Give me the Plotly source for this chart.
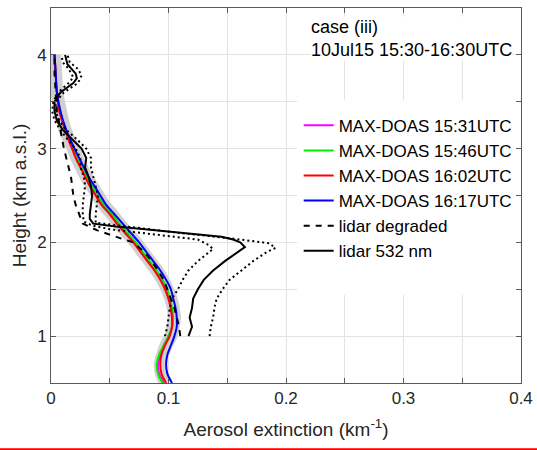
import plotly.graph_objects as go

# ---------------- data ----------------
doas_heights = [0.5, 0.6, 0.7, 0.8, 0.9, 1.0, 1.1, 1.2, 1.3, 1.4, 1.5, 1.6, 1.7, 1.8, 1.9,
                2.0, 2.1, 2.2, 2.3, 2.4, 2.5, 2.6, 2.7, 2.8, 2.9, 3.0, 3.2, 3.4, 3.6, 3.8, 4.0]

doas_1531 = [0.096, 0.092, 0.091, 0.093, 0.096, 0.100, 0.103, 0.103, 0.102, 0.100, 0.098, 0.094, 0.089,
             0.083, 0.077, 0.071, 0.064, 0.057, 0.051, 0.044, 0.039, 0.034, 0.030, 0.026, 0.022,
             0.018, 0.012, 0.008, 0.005, 0.004, 0.003]
doas_1546 = [0.095, 0.091, 0.090, 0.092, 0.096, 0.100, 0.103, 0.104, 0.103, 0.101, 0.099, 0.095, 0.090,
             0.084, 0.078, 0.072, 0.065, 0.058, 0.052, 0.045, 0.040, 0.035, 0.030, 0.026, 0.022,
             0.019, 0.012, 0.008, 0.005, 0.004, 0.003]
doas_1602 = [0.098, 0.094, 0.093, 0.094, 0.097, 0.101, 0.103, 0.103, 0.102, 0.100, 0.097, 0.093, 0.088,
             0.082, 0.076, 0.070, 0.063, 0.056, 0.050, 0.043, 0.038, 0.033, 0.029, 0.025, 0.021,
             0.018, 0.012, 0.007, 0.005, 0.004, 0.003]
doas_1617 = [0.103, 0.099, 0.098, 0.099, 0.102, 0.105, 0.107, 0.107, 0.106, 0.104, 0.102, 0.098, 0.093,
             0.087, 0.081, 0.075, 0.068, 0.061, 0.054, 0.047, 0.042, 0.037, 0.032, 0.028, 0.024,
             0.020, 0.013, 0.008, 0.005, 0.004, 0.003]
doas_band = [0.098, 0.094, 0.093, 0.095, 0.098, 0.102, 0.104, 0.105, 0.104, 0.102, 0.099, 0.095, 0.090,
             0.084, 0.078, 0.072, 0.065, 0.058, 0.052, 0.045, 0.040, 0.035, 0.030, 0.026, 0.022,
             0.019, 0.012, 0.008, 0.005, 0.004, 0.003]

lidar_heights = [1.00, 1.10, 1.20, 1.30, 1.40, 1.50, 1.60, 1.70, 1.80, 1.90, 1.95, 2.00, 2.03,
                 2.06, 2.08, 2.11, 2.14, 2.17, 2.20, 2.25, 2.30, 2.40, 2.50, 2.60, 2.70, 2.80,
                 2.90, 3.00, 3.10, 3.20, 3.30, 3.40, 3.50, 3.60, 3.70, 3.75, 3.80, 3.90, 4.00]
lidar_532 = [0.117, 0.120, 0.118, 0.120, 0.121, 0.125, 0.130, 0.138, 0.148, 0.160, 0.165, 0.161, 0.155,
             0.145, 0.130, 0.105, 0.080, 0.055, 0.036, 0.033, 0.033, 0.034, 0.035, 0.034, 0.032, 0.029,
             0.030, 0.026, 0.018, 0.010, 0.005, 0.003, 0.003, 0.008, 0.019, 0.022, 0.021, 0.014, 0.012]

upper_heights = [1.00, 1.10, 1.20, 1.30, 1.40, 1.50, 1.60, 1.70, 1.80, 1.90, 1.94, 1.99, 2.04,
                 2.10, 2.16, 2.21, 2.30, 2.40, 2.50, 2.60, 2.70, 2.80, 2.90, 3.00, 3.10, 3.20,
                 3.30, 3.40, 3.50, 3.60, 3.70, 3.78, 3.85, 3.92, 4.00]
lidar_upper = [0.135, 0.136, 0.138, 0.139, 0.141, 0.146, 0.152, 0.162, 0.172, 0.184, 0.191, 0.186, 0.155,
               0.110, 0.070, 0.038, 0.038, 0.039, 0.040, 0.038, 0.036, 0.034, 0.034, 0.030, 0.022,
               0.013, 0.007, 0.004, 0.004, 0.011, 0.023, 0.026, 0.023, 0.016, 0.014]

lower_heights = [1.00, 1.10, 1.20, 1.30, 1.40, 1.50, 1.60, 1.70, 1.80, 1.88, 1.93, 1.98, 2.03,
                 2.06, 2.10, 2.14, 2.18, 2.22, 2.30, 2.40, 2.50, 2.60, 2.70, 2.80, 2.90, 3.00,
                 3.10, 3.20, 3.30, 3.40, 3.50, 3.60, 3.70, 3.76, 3.85, 3.92, 4.00]
lidar_lower = [0.097, 0.099, 0.100, 0.101, 0.103, 0.108, 0.112, 0.117, 0.125, 0.133, 0.138, 0.133, 0.125,
               0.105, 0.075, 0.050, 0.035, 0.028, 0.027, 0.027, 0.028, 0.029, 0.028, 0.025, 0.025,
               0.021, 0.014, 0.008, 0.003, 0.001, 0.002, 0.006, 0.015, 0.019, 0.015, 0.010, 0.009]

degraded_heights = [1.00, 1.10, 1.20, 1.30, 1.40, 1.50, 1.60, 1.70, 1.80, 1.90, 2.00, 2.04, 2.08,
                    2.13, 2.20, 2.30, 2.40, 2.50, 2.60, 2.70, 2.80, 2.90, 3.00, 3.20, 3.40, 3.60,
                    3.80, 4.00]
lidar_degraded = [0.110, 0.109, 0.107, 0.105, 0.102, 0.099, 0.096, 0.091, 0.086, 0.079, 0.070, 0.060,
                  0.050, 0.039, 0.027, 0.024, 0.021, 0.019, 0.018, 0.017, 0.015, 0.013, 0.011, 0.008,
                  0.005, 0.004, 0.003, 0.003]

x_tickvals = [0, 0.05, 0.1, 0.15, 0.2, 0.25, 0.3, 0.35, 0.4]
x_ticktext = ["0", "", "0.1", "", "0.2", "", "0.3", "", "0.4"]
y_tickvals = [0.5, 1, 1.5, 2, 2.5, 3, 3.5, 4, 4.5]
y_ticktext = ["", "1", "", "2", "", "3", "", "4", ""]

# ---------------- figure ----------------
FONT = "Liberation Sans, Arial, sans-serif"
fig = go.Figure()

fig.add_trace(go.Scatter(x=doas_band, y=doas_heights, mode="lines", showlegend=False,
                         line=dict(color="rgb(208,208,208)", width=13, shape="spline"),
                         hoverinfo="skip"))
doas = [("MAX-DOAS 15:31UTC", doas_1531, "#ff00ff"),
        ("MAX-DOAS 15:46UTC", doas_1546, "#00ee00"),
        ("MAX-DOAS 16:02UTC", doas_1602, "#ff0000"),
        ("MAX-DOAS 16:17UTC", doas_1617, "#0000ff")]
for name, vals, col in doas:
    fig.add_trace(go.Scatter(x=vals, y=doas_heights, mode="lines", name=name,
                             line=dict(color=col, width=2, shape="spline")))

fig.add_trace(go.Scatter(x=lidar_degraded, y=degraded_heights, mode="lines", name="lidar degraded",
                         line=dict(color="black", width=2, dash="6px,6px")))
fig.add_trace(go.Scatter(x=lidar_532, y=lidar_heights, mode="lines", name="lidar 532 nm",
                         line=dict(color="black", width=2)))
fig.add_trace(go.Scatter(x=lidar_lower, y=lower_heights, mode="lines", showlegend=False,
                         line=dict(color="black", width=2, dash="2px,3px")))
fig.add_trace(go.Scatter(x=lidar_upper, y=upper_heights, mode="lines", showlegend=False,
                         line=dict(color="black", width=2, dash="2px,3px")))

axis_common = dict(showgrid=True, gridcolor="#e3e3e3", gridwidth=1,
                   showline=True, linecolor="#5a5a5a", linewidth=1, mirror="allticks",
                   ticks="inside", ticklen=5, tickcolor="#5a5a5a", zeroline=False,
                   tickfont=dict(family=FONT, size=17, color="#262626"))

fig.update_xaxes(range=[0, 0.4], tickmode="array", tickvals=x_tickvals, ticktext=x_ticktext,
                 title=dict(text="Aerosol extinction (km<sup>-1</sup>)", standoff=15,
                            font=dict(family=FONT, size=19, color="#262626")),
                 **axis_common)
fig.update_yaxes(range=[0.5, 4.5], tickmode="array", tickvals=y_tickvals, ticktext=y_ticktext,
                 title=dict(text="Height (km a.s.l.)", standoff=5,
                            font=dict(family=FONT, size=19, color="#262626")),
                 **axis_common)

# white area behind the legend (hides grid)
fig.add_shape(type="rect", xref="x", yref="y", x0=0.2094, x1=0.4, y0=1.44, y1=3.52,
              fillcolor="white", line=dict(width=0), layer="between")

fig.add_annotation(text="case (iii)<br>10Jul15 15:30-16:30UTC", xref="paper", yref="paper",
                   x=0.551, y=0.978, xanchor="left", yanchor="top", align="left",
                   showarrow=False, bgcolor="white", borderpad=0,
                   font=dict(family=FONT, size=18, color="black"))

fig.add_shape(type="line", xref="paper", yref="paper", x0=-0.12, x1=1.05, y0=-0.177, y1=-0.177,
              line=dict(color="red", width=2.5))

fig.update_layout(
    width=537, height=450,
    margin=dict(l=51, r=16, t=8, b=67, autoexpand=False),
    paper_bgcolor="white", plot_bgcolor="white",
    font=dict(family=FONT, color="#262626"),
    legend=dict(x=0.527, y=0.734, xanchor="left", yanchor="top", bgcolor="rgba(0,0,0,0)",
                font=dict(family=FONT, size=17, color="black"), tracegroupgap=0,
                itemwidth=30),
)

fig.write_html("out.html", config={"displayModeBar": False},
               post_script="document.body.style.margin='0';document.body.style.padding='0';")
